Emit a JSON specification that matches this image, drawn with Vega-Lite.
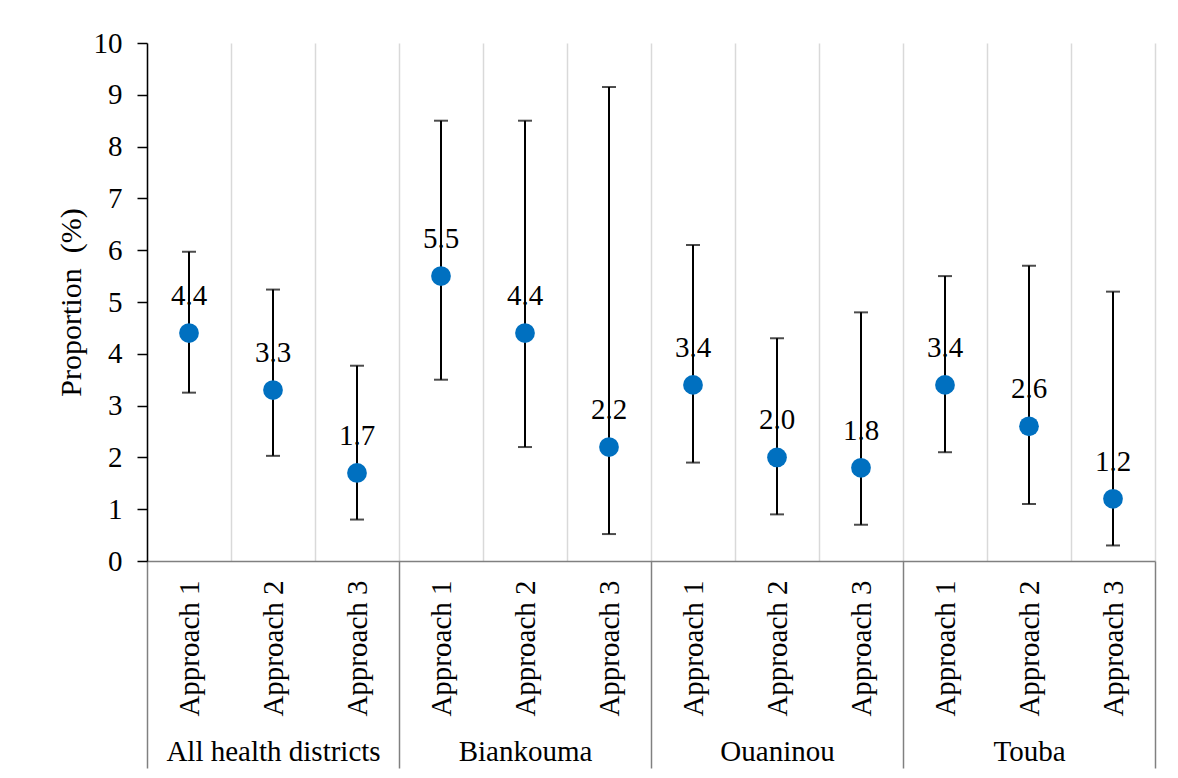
{
  "$schema": "https://vega.github.io/schema/vega-lite/v6.json",
  "width": 1008,
  "height": 518,
  "autosize": {"type": "none"},
  "padding": {"left": 147, "top": 43, "right": 23, "bottom": 217},
  "background": "white",
  "config": {
    "view": {"stroke": null},
    "font": "Liberation Serif",
    "text": {"font": "Liberation Serif"}
  },
  "data": {
    "values": [
      {"cell": "All health districts|Approach 1", "district": "All health districts", "approach": "Approach 1", "estimate": 4.4, "lower": 3.25, "upper": 5.97},
      {"cell": "All health districts|Approach 2", "district": "All health districts", "approach": "Approach 2", "estimate": 3.3, "lower": 2.03, "upper": 5.24},
      {"cell": "All health districts|Approach 3", "district": "All health districts", "approach": "Approach 3", "estimate": 1.7, "lower": 0.8, "upper": 3.77},
      {"cell": "Biankouma|Approach 1", "district": "Biankouma", "approach": "Approach 1", "estimate": 5.5, "lower": 3.5, "upper": 8.5},
      {"cell": "Biankouma|Approach 2", "district": "Biankouma", "approach": "Approach 2", "estimate": 4.4, "lower": 2.2, "upper": 8.5},
      {"cell": "Biankouma|Approach 3", "district": "Biankouma", "approach": "Approach 3", "estimate": 2.2, "lower": 0.52, "upper": 9.15},
      {"cell": "Ouaninou|Approach 1", "district": "Ouaninou", "approach": "Approach 1", "estimate": 3.4, "lower": 1.9, "upper": 6.1},
      {"cell": "Ouaninou|Approach 2", "district": "Ouaninou", "approach": "Approach 2", "estimate": 2.0, "lower": 0.9, "upper": 4.3},
      {"cell": "Ouaninou|Approach 3", "district": "Ouaninou", "approach": "Approach 3", "estimate": 1.8, "lower": 0.7, "upper": 4.8},
      {"cell": "Touba|Approach 1", "district": "Touba", "approach": "Approach 1", "estimate": 3.4, "lower": 2.1, "upper": 5.5},
      {"cell": "Touba|Approach 2", "district": "Touba", "approach": "Approach 2", "estimate": 2.6, "lower": 1.1, "upper": 5.7},
      {"cell": "Touba|Approach 3", "district": "Touba", "approach": "Approach 3", "estimate": 1.2, "lower": 0.3, "upper": 5.2}
    ]
  },
  "layer": [
    {
      "description": "Outer category level: district names and the long separators between districts",
      "mark": {"type": "point", "opacity": 0},
      "encoding": {
        "x": {
          "field": "district",
          "type": "nominal",
          "sort": null,
          "scale": {"paddingInner": 0, "paddingOuter": 0},
          "axis": {
            "orient": "bottom",
            "title": null,
            "domain": false,
            "grid": false,
            "ticks": true,
            "tickBand": "extent",
            "tickSize": 207,
            "tickColor": "#808080",
            "tickWidth": 1.5,
            "labelAngle": 0,
            "labelLimit": 0,
            "labelFont": "Liberation Serif",
            "labelFontSize": 29,
            "labelColor": "#000000",
            "labelPadding": -31
          }
        },
        "y": {"field": "estimate", "type": "quantitative", "scale": {"domain": [0, 10], "nice": false}}
      }
    },
    {
      "encoding": {
        "x": {
          "field": "cell",
          "type": "nominal",
          "sort": null,
          "scale": {"paddingInner": 0, "paddingOuter": 0},
          "axis": {
            "orient": "bottom",
            "title": null,
            "labelExpr": "split(datum.label, '|')[1]",
            "labelAngle": -90,
            "labelLimit": 0,
            "labelFont": "Liberation Serif",
            "labelFontSize": 29,
            "labelColor": "#000000",
            "labelPadding": 19,
            "ticks": false,
            "tickBand": "extent",
            "grid": true,
            "gridColor": "#d9d9d9",
            "gridWidth": 1.5,
            "domain": true,
            "domainColor": "#808080",
            "domainWidth": 1.5
          }
        }
      },
      "layer": [
        {
          "mark": {"type": "rule", "color": "#000000", "strokeWidth": 2},
          "encoding": {
            "y": {
              "field": "lower",
              "type": "quantitative",
              "scale": {"domain": [0, 10], "nice": false},
              "axis": {
                "title": "Proportion\u00a0\u00a0(%)",
                "titleFont": "Liberation Serif",
                "titleFontSize": 30,
                "titleFontWeight": "normal",
                "titleColor": "#000000",
                "titlePadding": 7,
                "values": [0, 1, 2, 3, 4, 5, 6, 7, 8, 9, 10],
                "grid": false,
                "domainColor": "#000000",
                "domainWidth": 1.5,
                "tickColor": "#000000",
                "tickWidth": 1.5,
                "tickSize": 10,
                "labelFont": "Liberation Serif",
                "labelFontSize": 29,
                "labelColor": "#000000",
                "labelPadding": 15
              }
            },
            "y2": {"field": "upper"}
          }
        },
        {
          "mark": {"type": "tick", "color": "#000000", "size": 14, "thickness": 2},
          "encoding": {"y": {"field": "upper", "type": "quantitative"}}
        },
        {
          "mark": {"type": "tick", "color": "#000000", "size": 14, "thickness": 2},
          "encoding": {"y": {"field": "lower", "type": "quantitative"}}
        },
        {
          "mark": {"type": "text", "fontSize": 29, "font": "Liberation Serif", "color": "#000000", "baseline": "alphabetic", "dy": -28},
          "encoding": {
            "y": {"field": "estimate", "type": "quantitative"},
            "text": {"field": "estimate", "type": "quantitative", "format": ".1f"}
          }
        },
        {
          "mark": {"type": "point", "shape": "circle", "filled": true, "opacity": 1, "size": 390, "color": "#0070c0"},
          "encoding": {"y": {"field": "estimate", "type": "quantitative"}}
        }
      ]
    }
  ],
  "resolve": {"scale": {"x": "independent"}, "axis": {"x": "independent"}}
}
